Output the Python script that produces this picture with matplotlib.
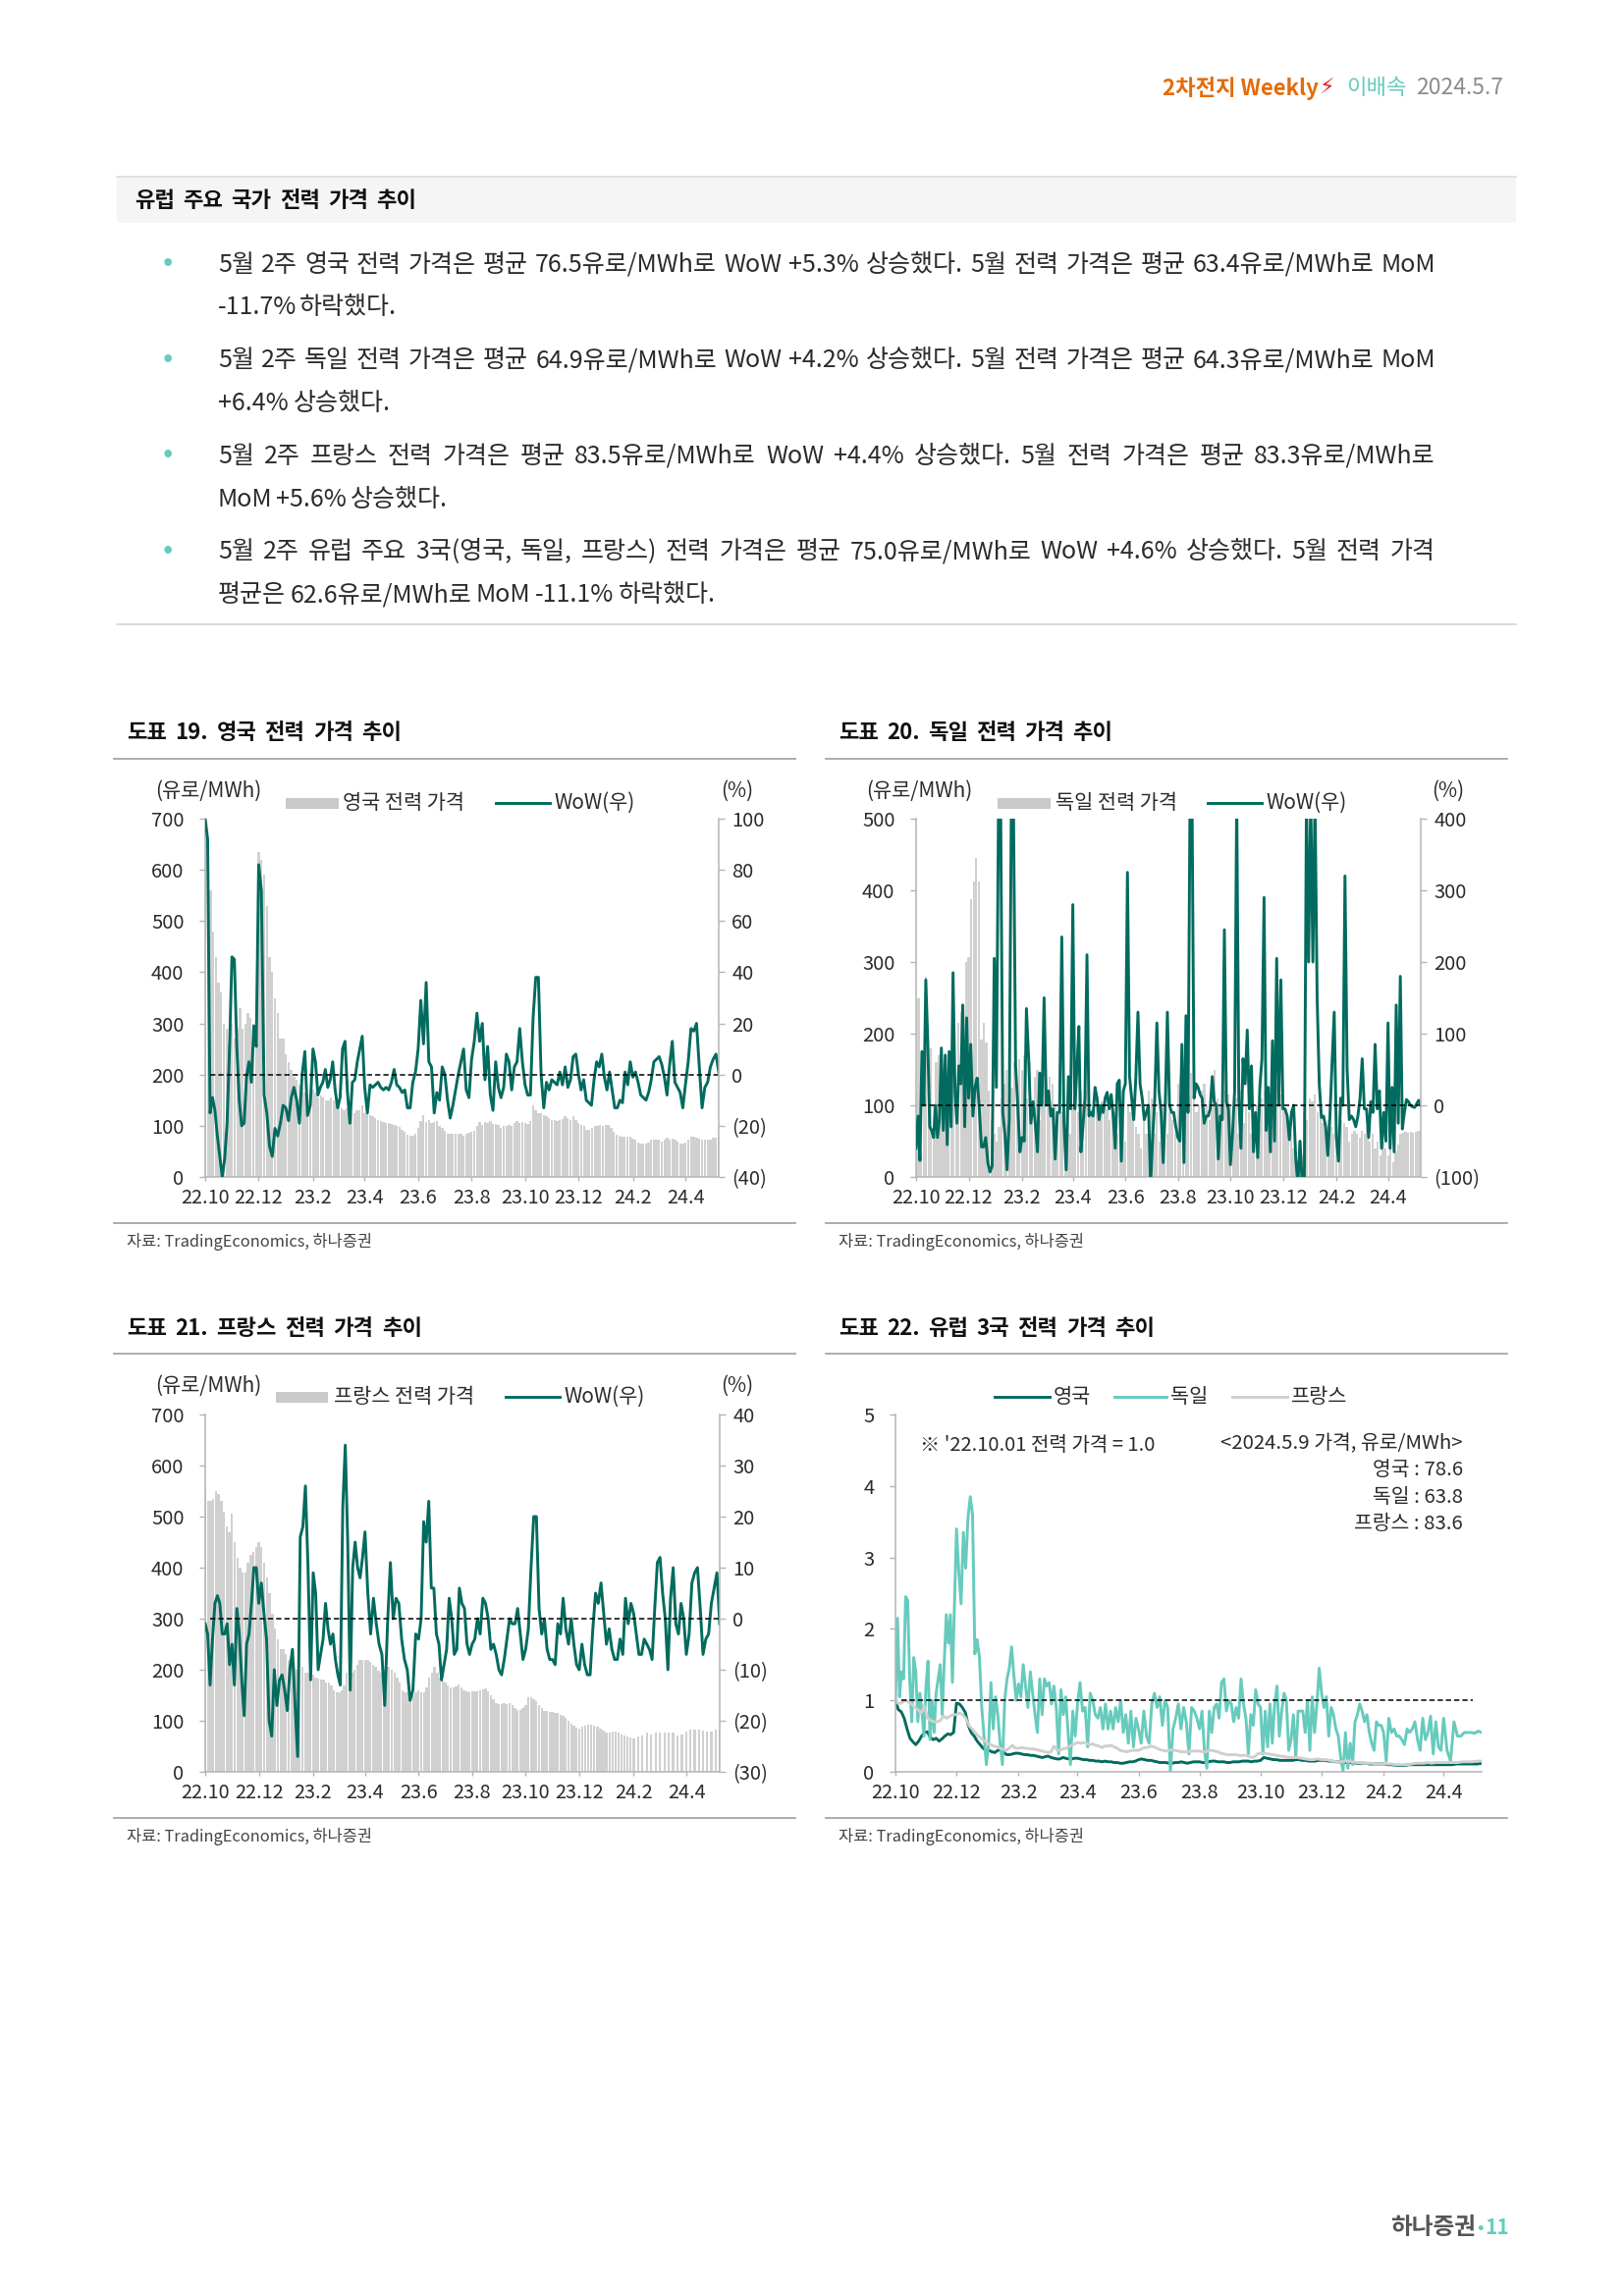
import matplotlib
matplotlib.use("Agg")
import matplotlib.dates as mdates
import matplotlib.pyplot as plt
import numpy as np
from matplotlib.lines import Line2D
from matplotlib.patches import Rectangle

plt.rcParams["font.family"] = ["Noto Sans CJK KR", "DejaVu Sans"]
plt.rcParams["font.weight"] = "light"

W, H = 1654, 2339
PAGE_SCALE = 0.9952
TEAL = "#006b5e"
MINT = "#66cbbd"
GREY_BAR = "#d0d0d0"
GREY_LINE = "#b4b4b4"
TXT = "#2b2b2b"

SEGMENT_DATES = ["2022-10-01", "2022-12-01", "2023-02-01", "2023-04-01", "2023-06-01", "2023-08-01",
                 "2023-10-01", "2023-12-01", "2024-02-01", "2024-04-01", "2024-05-09"]
TICK_DATES = SEGMENT_DATES[:-1]
TICK_LABELS = ["22.10", "22.12", "23.2", "23.4", "23.6", "23.8", "23.10", "23.12", "24.2", "24.4"]

# values are read per two-month stretch of the x axis, one list per stretch
UK_PRICE = [
    [700, 650, 560, 480, 430, 380, 360, 300, 290, 260, 300, 270, 290, 330, 290, 300, 320, 310, 300, 340],
    [635, 620, 590, 530, 430, 400, 350, 320, 270, 270, 240, 225, 210, 195, 190, 180, 175, 165, 160, 150],
    [170, 165, 155, 160, 155, 150, 150, 155, 150, 145, 140, 135, 130, 135, 125, 125, 125, 130, 130, 140],
    [125, 122, 120, 118, 115, 112, 110, 108, 105, 105, 103, 102, 100, 98, 92, 88, 83, 80, 80, 84],
    [95, 110, 120, 108, 112, 105, 108, 110, 100, 95, 90, 85, 85, 85, 84, 85, 85, 80, 85, 87],
    [88, 90, 100, 108, 102, 108, 105, 110, 103, 103, 102, 96, 100, 100, 102, 100, 105, 110, 105, 108],
    [105, 103, 110, 140, 130, 125, 125, 120, 118, 115, 112, 112, 110, 112, 114, 118, 115, 112, 118, 112],
    [105, 102, 100, 93, 93, 95, 100, 100, 101, 100, 102, 102, 95, 88, 82, 80, 78, 78, 78, 78],
    [75, 72, 68, 65, 65, 66, 68, 72, 72, 73, 72, 70, 72, 76, 72, 74, 72, 70, 66, 66],
    [68, 72, 78, 78, 76, 74, 72, 72, 73, 72, 76, 76, 78],
]
UK_WOW = [
    [100, 92, -15, -9, -14, -24, -32, -40, -33, -19, 10, 46, 45, 11, -10, -20, -19, -1, 5, -3, 19, 11],
    [82, 72, -8, -15, -28, -32, -21, -24, -19, -12, -13, -18, -9, -5, -10, -19, 0, 9, -16, -12],
    [10, 5, -8, -5, -3, 2, -5, -2, 5, -6, -13, -9, 10, 13, -7, -19, -3, -2, 5, 10, 15],
    [-5, -15, -4, -5, -4, -3, -5, -6, -5, -6, -3, 2, -4, -5, -7, -6, -13, -13, -3, 1],
    [10, 29, 12, 36, 5, 3, -15, -7, -10, 3, 0, -10, -17, -12, -6, 0, 5, 10, -6, -9],
    [6, 13, 24, 13, 20, -2, 11, -8, -14, 5, -5, -9, -5, 8, 5, -6, 3, 5, 18, 5],
    [-4, -8, -8, 22, 38, 38, 0, -13, -3, -6, -2, -3, -4, 1, -4, 3, -5, -2, 7, 8],
    [0, -6, -2, -10, -11, -12, -2, 5, 3, 8, -1, -6, 1, -6, -13, -13, -10, -11, 1, -4, 5],
    [-1, 1, -3, -8, -9, -10, -7, -2, 5, 6, 7, 4, -1, -8, 4, 13, -3, -5, -7, -13],
    [-4, 5, 18, 17, 20, 3, -13, -5, -3, 3, 6, 8, 1],
]
DE_PRICE = [
    [120, 250, 80, 150, 280, 130, 180, 100, 160, 170, 130, 120, 140, 100, 150, 170, 130, 215, 230, 170, 300],
    [307, 388, 413, 445, 413, 192, 215, 187, 120, 80, 60, 50, 70, 110, 130, 150, 100, 125, 160, 110, 165],
    [150, 170, 110, 160, 100, 140, 150, 80, 120, 150, 100, 140, 130, 100, 80, 120, 90, 70, 110, 60],
    [100, 110, 90, 120, 100, 120, 110, 95, 115, 100, 90, 105, 100, 95, 80, 100, 90, 60, 100, 80],
    [50, 100, 90, 100, 70, 60, 40, 80, 60, 120, 110, 60, 90, 50, 100, 105, 60, 90, 80, 60],
    [130, 140, 120, 100, 130, 145, 120, 90, 100, 120, 130, 100, 80, 120, 150, 110, 100, 90, 120, 115],
    [100, 80, 110, 60, 120, 75, 100, 90, 60, 90, 100, 70, 110, 120, 90, 105, 115, 120, 130, 115],
    [110, 90, 80, 60, 40, 20, 50, 30, 90, 80, 110, 105, 115, 90, 100, 75, 60, 80, 70, 60],
    [70, 60, 80, 75, 70, 50, 60, 65, 60, 55, 65, 60, 70, 50, 60, 40, 50, 30, 50, 40],
    [30, 40, 20, 35, 45, 60, 62, 63, 62, 63, 62, 63, 65, 64],
]
DE_WOW = [
    [-60, -15, -77, 75, 0, 175, 90, -30, -35, -45, 0, -45, -20, 80, -35, 70, -55, 75, -30, 185, 20, -25, 55, 30, 140, -30, 122],
    [10, 85, -15, 25, 38, -5, -58, -58, -45, -80, -93, -85, 205, 25, 420, 420, -10, -40, -90, -20, 420, 420, 55, 0, -65],
    [-45, -50, 135, 65, -25, 5, -25, -65, 45, 0, 150, 0, 20, -15, -5, -75, -10, -10, 235, -25, -90, 40, -5],
    [280, -5, 50, 110, -65, -30, 10, 210, -15, -10, -15, 25, 10, -20, 0, -10, 10, 18, -5, 15, -15, -60, 30, 35, -78, 20],
    [30, 325, 40, 10, -20, 40, 130, 30, 10, -20, -10, 0, -110, -45, 10, 115, 20, -10, -80, 0, 130, 0, -10, -10, -30],
    [-45, -50, 85, -80, 125, -10, 430, 430, 10, 30, 25, 15, 10, -25, -15, -15, -5, 40, 5, 0, -75, -15, -20, 245, 5, -5],
    [-83, -40, 20, 430, 10, -60, 65, 30, 105, -5, 55, -65, -10, -73, 25, 65, 290, -35, 25, -65, 90, -50, 205, 0, 175],
    [-5, -5, -15, -48, -10, 0, -75, -110, -50, -110, -110, 430, 200, 430, 200, 430, 150, 30, -17, -15, -30, -70, -15, 60, 130],
    [-45, -78, 10, 0, 320, 50, -20, -15, -20, -30, -15, 10, 65, -5, -5, -45, 5, -10, 85, -5, 20, -60, -10, -50],
    [115, -60, 25, -65, 140, -25, 180, -33, -10, 8, 5, 0, -2, -3, 2, 7, 0],
]
FR_PRICE = [
    [550, 530, 530, 535, 550, 545, 530, 510, 480, 470, 505, 450, 420, 400, 390, 390, 410, 425, 430, 440],
    [450, 440, 410, 380, 350, 310, 280, 260, 240, 240, 230, 220, 210, 205, 200, 200, 205, 195, 195, 190],
    [190, 185, 182, 180, 180, 175, 175, 170, 160, 155, 155, 160, 170, 195, 195, 195, 200, 210, 220, 220],
    [220, 220, 215, 210, 205, 198, 195, 200, 205, 205, 200, 195, 185, 175, 160, 155, 155, 152, 150, 155],
    [160, 155, 155, 165, 185, 195, 205, 195, 185, 178, 175, 170, 165, 165, 168, 172, 165, 160, 158, 156],
    [158, 157, 157, 160, 162, 163, 158, 150, 142, 135, 133, 133, 134, 133, 135, 130, 125, 122, 122, 125],
    [130, 147, 147, 143, 138, 130, 125, 120, 120, 118, 118, 116, 116, 112, 110, 106, 100, 95, 90, 86],
    [85, 88, 90, 93, 92, 90, 88, 85, 80, 77, 77, 78, 78, 76, 74, 72, 70, 68],
    [66, 70, 72, 76, 74, 76, 76, 76, 77, 76, 72, 74],
    [78, 82, 83, 82, 80, 79, 79, 83, 83],
]
FR_WOW = [
    [-1, -3, -13, -4, 3, 4.5, 3, -3, -3, -1, -9, -5, -13, 2, -3, -12, -19, -5, -3, 3, 10, 10],
    [3, 7, 1, -4, -20, -23, -10, -17, -12, -11, -14, -18, -10, -6, -17, -27, 16, 18, 26, 10, -12],
    [9, 5, -10, -7, -4, 3, -2, -5, -3, -8, -11, -13, 22, 34, 15, -14, 10, 15, 10, 8, 12],
    [17, 5, -3, 4, -1, -5, -7, -17, -1, 11, 0, 4, 3, -4, -8, -10, -16, -14, -3],
    [-4, 0, 19, 15, 23, 6, 6, -3, -5, -12, -9, -6, 4, 0, -7, -6, 6, 3, 2, -5, -7],
    [-5, -4, 0, -3, 4, 3, 0, -6, -5, -7, -10, -11, -8, -4, 0, -1, -1, 2, -3, -8],
    [-6, -2, 10, 20, 20, 2, -3, 0, -6, -8, -8, -9, -1, -3, 4, -2, -5, 0, -5, -9],
    [-10, -5, -9, -11, -11, -2, 5, 3, 7, 1, -5, -2, -6, -8, -8, -4, -7, 4, -1, 3],
    [1, -3, -7, -7, -4, -5, -6, -8, 2, 11, 12, 5, 0, -10, 4, 10, -1, -3, 3, 0],
    [-7, -3, 7, 9, 10, 2, -7, -4, -3, 3, 6, 9, -1],
]
IDX_UK = [
    [1.0, .87, .84, .75, .6, .47, .42, .38, .43, .5, .55, .56, .48, .45, .47, .43, .46, .5, .53, .52, .55],
    [.96, .95, .9, .83, .65, .55, .5, .43, .38, .33, .3, .3, .28, .27, .3, .31, .27, .24, .24, .25, .26],
    [.26, .25, .24, .24, .23, .23, .22, .21, .2, .21, .22, .2, .19, .18, .18, .2, .19, .18, .18, .19],
    [.19, .18, .17, .17, .16, .16, .15, .15, .14, .15, .14, .14, .13, .13, .12, .12, .13, .14, .14, .15],
    [.17, .18, .17, .16, .16, .15, .14, .13, .13, .13, .12, .12, .13, .13, .14, .13, .12, .13, .14, .14],
    [.14, .13, .13, .14, .15, .15, .14, .14, .14, .13, .13, .14, .14, .14, .15, .15, .15, .14, .15, .15],
    [.16, .2, .19, .18, .17, .17, .16, .16, .16, .16, .16, .17, .17, .16, .16, .15, .15, .15, .16],
    [.16, .16, .15, .15, .14, .14, .13, .13, .13, .13, .12, .12, .12, .12, .11, .11, .11, .11],
    [.11, .1, .1, .09, .09, .09, .1, .1, .1, .1, .1, .1, .1, .1],
    [.1, .1, .1, .11, .11, .11, .11, .11, .11, .12],
]
IDX_DE = [
    [1.0, 2.15, 1.05, 1.4, 1.3, 2.45, 2.4, 1.3, .7, 1.6, 1.4, .7, 1.1, .85, .5, 1.2, 1.55, .45, 1.0, .55, 1.1, 1.3, 1.5, .8, 1.55, 2.2, 1.8, 2.2, 1.25, 2.3],
    [3.4, 2.8, 2.35, 3.35, 2.85, 3.55, 3.85, 3.6, 1.65, 1.85, 1.6, .9, .5, .1, .4, 1.25, .6, 1.05, .8, .4, .1, 1.0, 1.3, 1.45, 1.75, 1.35, 1.0],
    [1.23, 1.05, 1.5, 1.2, .9, 1.4, 1.1, .8, .55, 1.3, .8, 1.3, 1.2, 1.25, .95, 1.2, .9, .25, 1.15, .8, 1.05, .55, .1, .85, .5],
    [.95, 1.25, .85, .9, .35, 1.1, 1.0, .8, .75, .9, .6, .95, .6, .85, .6, .9, .7, 1.0, .55, .8, .4, .85, .35, .75],
    [.6, .4, .85, .5, .4, .95, 1.1, .9, 1.05, .65, 1.0, .9, .0, .6, .75, .95, .6, .9, .7, .25, .9, .85, .75],
    [.6, .85, .3, .05, .85, .55, .9, .95, .75, 1.25, 1.3, .85, 1.0, .95, .7, .9, .75, 1.3, .95, .75, .25, .8, .65, 1.15, .95],
    [.9, .25, .85, .35, .95, .4, .95, 1.2, .5, .85, 1.1, 1.0, .3, .45, .8, .2, .85, .85, .85, .55, 1.0, .3, 1.05, .55, .95, 1.45],
    [1.1, .9, 1.05, .5, .9, .8, .6, .5, .2, 0, .55, .05, .4, .1, .7, .8, .95, .85, .7, .8, .55, .4, .3, .7, .65, .65],
    [.55, .15, .75, .55, .6, .5, .5, .45, .38, .6, .55, .6, .7, .45, .3, .75, .45, .55, .78, .25, .7, .35, .3],
    [.75, .3, .15, .7, .5, .5, .55, .55, .55, .54, .57, .55],
]
IDX_FR = [
    [1.0, .95, .97, 1.0, .98, .95, .9, .87, .82, .92, .75, .72, .7, .7, .72, .78, .75, .78, .8],
    [.8, .82, .8, .75, .65, .6, .55, .5, .47, .43, .4, .38, .36, .35, .33, .32, .3, .33, .37, .33],
    [.33, .34, .33, .33, .32, .32, .31, .3, .29, .28, .27, .28, .36, .31, .3, .32, .33, .35, .37, .39],
    [.41, .4, .41, .4, .38, .39, .37, .36, .34, .36, .36, .37, .35, .33, .3, .29, .28, .29, .3, .3],
    [.3, .32, .34, .34, .36, .35, .33, .31, .3, .29, .3, .31, .3, .29, .28, .28, .28, .29, .29, .29],
    [.29, .28, .28, .3, .3, .29, .28, .26, .25, .24, .24, .24, .24, .23, .23, .23, .22, .2, .21, .25],
    [.26, .26, .25, .24, .23, .22, .21, .2, .2, .2, .19, .18, .17, .17, .18],
    [.17, .17, .16, .15, .14, .14, .15, .15, .14, .13, .13, .12, .12, .12, .11, .11],
    [.11, .11, .11, .1, .1, .1, .1, .11, .12, .12, .12, .13, .12, .13, .13],
    [.13, .13, .13, .13, .14, .14, .14, .15, .15],
]

BULLETS = [
    ("5월 2주 영국 전력 가격은 평균 76.5유로/MWh로 WoW +5.3% 상승했다. 5월 전력 가격은 평균 63.4유로/MWh로 MoM", "-11.7% 하락했다."),
    ("5월 2주 독일 전력 가격은 평균 64.9유로/MWh로 WoW +4.2% 상승했다. 5월 전력 가격은 평균 64.3유로/MWh로 MoM", "+6.4% 상승했다."),
    ("5월 2주 프랑스 전력 가격은 평균 83.5유로/MWh로 WoW +4.4% 상승했다. 5월 전력 가격은 평균 83.3유로/MWh로", "MoM +5.6% 상승했다."),
    ("5월 2주 유럽 주요 3국(영국, 독일, 프랑스) 전력 가격은 평균 75.0유로/MWh로 WoW +4.6% 상승했다. 5월 전력 가격", "평균은 62.6유로/MWh로 MoM -11.1% 하락했다."),
]
SECOND_LINE_ENDS = [406, 400, 458, 732]


def num(d):
    return mdates.date2num(np.datetime64(d))


def spread(segments):
    # lay each stretch's readings evenly between its two tick dates
    xs, ys = [], []
    for i, seg in enumerate(segments):
        last = i == len(segments) - 1
        xs.append(np.linspace(num(SEGMENT_DATES[i]), num(SEGMENT_DATES[i + 1]), len(seg), endpoint=last))
        ys.append(seg)
    return np.concatenate(xs), np.concatenate(ys)


def paren(v):
    return f"({abs(v)})" if v < 0 else f"{v}"


def make_axes(fig, box):
    left, right, top, bottom = box
    ax = fig.add_axes([left / W, 1 - bottom / H, (right - left) / W, (bottom - top) / H])
    ax.set_xlim(num(SEGMENT_DATES[0]), num(SEGMENT_DATES[-1]))
    ax.set_xticks([num(d) for d in TICK_DATES])
    ax.set_xticklabels(TICK_LABELS)
    for s in ["top", "right"]:
        ax.spines[s].set_visible(False)
    for s in ["left", "bottom"]:
        ax.spines[s].set_color(GREY_LINE)
        ax.spines[s].set_linewidth(1.1)
    ax.tick_params(axis="y", length=4.5, width=1, color=GREY_LINE, pad=11, labelsize=14.5, labelcolor=TXT)
    ax.tick_params(axis="x", length=3, width=1, color=GREY_LINE, pad=5, labelsize=14.3, labelcolor=TXT)
    return ax


def price_chart(fig, box, price, wow, ylim, ystep, rlim, rstep):
    ax = make_axes(fig, box)
    x, y = spread(price)
    ax.bar(x, y, width=2.6, color=GREY_BAR, linewidth=0)
    ax.set_ylim(*ylim)
    ax.set_yticks(np.arange(ylim[0], ylim[1] + 1, ystep))
    ax2 = ax.twinx()
    ax2.set_ylim(*rlim)
    ticks = np.arange(rlim[0], rlim[1] + 1, rstep)
    ax2.set_yticks(ticks)
    ax2.set_yticklabels([paren(int(t)) for t in ticks])
    for s in ["top", "left", "bottom"]:
        ax2.spines[s].set_visible(False)
    ax2.spines["right"].set_color(GREY_LINE)
    ax2.spines["right"].set_linewidth(1.1)
    ax2.tick_params(axis="y", length=4.5, width=1, color=GREY_LINE, pad=5, labelsize=14.5, labelcolor=TXT)
    wx, wy = spread(wow)
    ax2.plot(wx, wy, color=TEAL, lw=2.1, solid_joinstyle="round")
    ax2.axhline(0, xmin=0.01, xmax=1, color="black", lw=1.1, ls=(0, (3.5, 2)))


fig = plt.figure(figsize=(W / 100, H / 100), dpi=100, facecolor="white")
page = fig.add_axes([0, 0, 1, 1])
page.set_xlim(0, W / PAGE_SCALE)
page.set_ylim(H / PAGE_SCALE, 0)
page.axis("off")
page.set_zorder(5)
renderer = fig.canvas.get_renderer()


def put(x, y, s, size=14, color=TXT, ha="left", weight="light", **kw):
    return page.text(x, y, s, fontsize=size, color=color, ha=ha, va="center", fontweight=weight, **kw)


def justified(x0, x1, y, line, size, color=TXT, weight="light"):
    words = line.split(" ")
    widths = []
    for w in words:
        t = put(0, y, w, size=size, weight=weight)
        widths.append(t.get_window_extent(renderer).width / PAGE_SCALE)
        t.remove()
    gap = (x1 - x0 - sum(widths)) / (len(words) - 1)
    x = x0
    for w, wd in zip(words, widths):
        put(x, y, w, size=size, color=color, weight=weight)
        x += wd + gap


# header
put(1190, 90, "2차전지 Weekly", size=16, color="#e36c0a", weight="bold")
put(1350, 90, "⚡", size=16, color="#e3242b", weight="normal", family=["DejaVu Sans"])
put(1378, 90, "이배속", size=16, color=MINT, weight="normal")
put(1449, 90, "2024.5.7", size=16.5, color="#8c8c8c", weight="normal")

# summary box
page.add_patch(Rectangle((120, 181), 1431, 47, facecolor="#f5f5f5", edgecolor="none"))
page.add_line(Line2D([120, 1551], [181, 181], color="#dcdcdc", lw=1.2))
justified(138, 426, 205, "유럽 주요 국가 전력 가격 추이", 16, color="#111111", weight="bold")
for i, (first, second) in enumerate(BULLETS):
    y = 271 + i * 98
    put(172, y - 2, "•", size=22, color=MINT, ha="center")
    justified(223, 1469, y, first, 18)
    justified(223, SECOND_LINE_ENDS[i], y + 44, second, 18)
page.add_line(Line2D([120, 1551], [639, 639], color="#d4d4d4", lw=1.2))

# chart frames
FRAMES = [(117, 814, 750, 777, 1252, 1271), (845, 1542, 750, 777, 1252, 1271),
          (117, 814, 1360, 1386, 1861, 1880), (845, 1542, 1360, 1386, 1861, 1880)]
TITLES = ["도표 19. 영국 전력 가격 추이", "도표 20. 독일 전력 가격 추이", "도표 21. 프랑스 전력 가격 추이", "도표 22. 유럽 3국 전력 가격 추이"]
TITLE_WIDTHS = [281, 281, 302, 324]
for (x0, x1, ty, ry, sy, sty), title, tw in zip(FRAMES, TITLES, TITLE_WIDTHS):
    justified(x0 + 13, x0 + 13 + tw, ty, title, 16, color="#111111", weight="bold")
    page.add_line(Line2D([x0, x1], [ry, ry], color="#a6a6a6", lw=1.3))
    page.add_line(Line2D([x0, x1], [sy, sy], color="#a6a6a6", lw=1.3))
    put(x0 + 13, sty, "자료: TradingEconomics, 하나증권", size=11.8, color="#444444")

price_chart(fig, (209, 732, 834, 1199), UK_PRICE, UK_WOW, (0, 700), 100, (-40, 100), 20)
price_chart(fig, (933, 1447, 834, 1199), DE_PRICE, DE_WOW, (0, 500), 100, (-100, 400), 100)
price_chart(fig, (209, 733, 1441, 1805), FR_PRICE, FR_WOW, (0, 700), 100, (-30, 40), 10)

ax = make_axes(fig, (912, 1509, 1441, 1805))
for series, color in [(IDX_UK, TEAL), (IDX_DE, MINT), (IDX_FR, "#cfcfcf")]:
    xs, ys = spread(series)
    ax.plot(xs, ys, color=color, lw=2.1)
ax.set_ylim(0, 5)
ax.set_yticks(range(6))
ax.axhline(1, xmin=0.01, xmax=0.985, color="black", lw=1.1, ls=(0, (3.5, 2)))


def legend_row(y, entries):
    for kind, x0, x1, tx, label in entries:
        if kind == "bar":
            page.add_patch(Rectangle((x0, y - 5), x1 - x0, 11, facecolor="#c9c9c9", edgecolor="none"))
        else:
            page.add_line(Line2D([x0, x1], [y, y], color=kind, lw=2.1))
        put(tx, y, label, size=15)


for x_unit, x_pct, y in [(159, 738, 810), (886, 1465, 810), (159, 738, 1419)]:
    put(x_unit, y, "(유로/MWh)", size=15)
    put(x_pct, y, "(%)", size=15)

legend_row(822, [("bar", 292, 347, 351, "영국 전력 가격"), (TEAL, 507, 563, 567, "WoW(우)")])
legend_row(822, [("bar", 1021, 1075, 1080, "독일 전력 가격"), (TEAL, 1236, 1291, 1296, "WoW(우)")])
legend_row(1430, [("bar", 282, 336, 342, "프랑스 전력 가격"), (TEAL, 517, 573, 577, "WoW(우)")])
legend_row(1430, [(TEAL, 1018, 1074, 1078, "영국"), (MINT, 1140, 1194, 1198, "독일"), ("#cfcfcf", 1261, 1317, 1321, "프랑스")])

put(942, 1480, "※ '22.10.01 전력 가격 = 1.0", size=14.5)
for y, s in [(1478, "<2024.5.9 가격, 유로/MWh>"), (1505, "영국 : 78.6"), (1533, "독일 : 63.8"), (1560, "프랑스 : 83.6")]:
    put(1497, y, s, size=14.7, ha="right")

# footer
put(1510, 2280, "하나증권", size=17, color="#555555", ha="right", weight="bold")
put(1515, 2280, "•", size=14, color=MINT, ha="center")
put(1520, 2280, "11", size=15, color=MINT, weight="bold")

fig.savefig("out.png", dpi=100)
